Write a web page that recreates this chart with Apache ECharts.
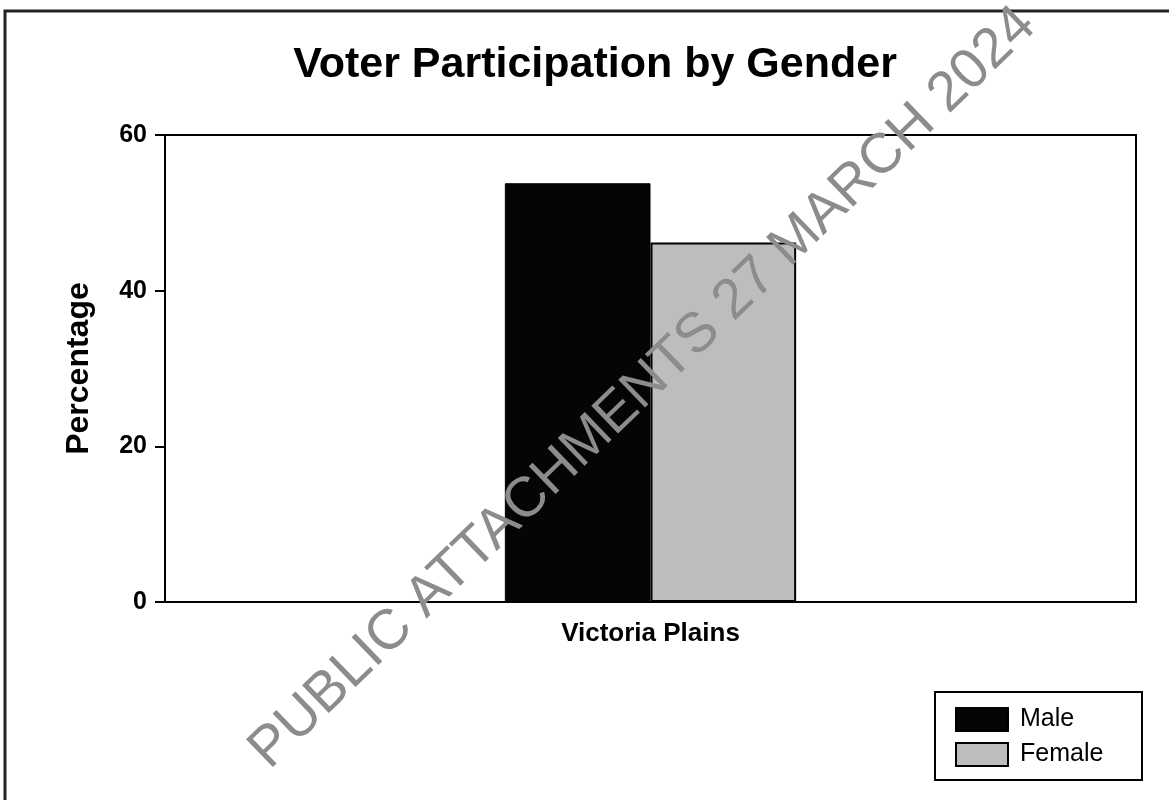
<!DOCTYPE html>
<html>
<head>
<meta charset="utf-8">
<title>Voter Participation by Gender</title>
<script src="https://cdn.jsdelivr.net/npm/echarts@6/dist/echarts.min.js"></script>
<style>
  html, body { margin: 0; padding: 0; background: #fff; }
  #chart { width: 1169px; height: 800px; }
</style>
</head>
<body>
<div id="chart"></div>
<script>
// data
const categories = ['Victoria Plains'];
const maleValues = [53.8];
const femaleValues = [46.2];
const seriesNames = ['Male', 'Female'];

const FONT = "'Liberation Sans', Arial, sans-serif";

var myChart = echarts.init(document.getElementById('chart'));

const option = {
  backgroundColor: '#fff',
  animation: false,
  title: {
    text: 'Voter Participation by Gender',
    left: 590,
    textAlign: 'center',
    top: 39,
    textStyle: { fontFamily: FONT, fontSize: 43, fontWeight: 'bold', color: '#000' }
  },
  grid: {
    left: 165, right: 33, top: 135, bottom: 198,
    show: true, borderColor: '#000', borderWidth: 2, backgroundColor: 'transparent'
  },
  legend: {
    orient: 'vertical',
    left: 955,
    top: 707,
    padding: 0,
    icon: 'rect',
    itemWidth: 52,
    itemHeight: 23,
    itemGap: 10,
    data: seriesNames,
    textStyle: { fontFamily: FONT, fontSize: 25, color: '#000', padding: [0, 0, 0, 7] }
  },
  xAxis: {
    type: 'category',
    data: categories,
    axisLine: { lineStyle: { color: '#000', width: 2 } },
    axisTick: { alignWithLabel: true, length: 8, lineStyle: { color: '#000', width: 2 } },
    axisLabel: { margin: 19, fontFamily: FONT, fontSize: 26, fontWeight: 'bold', color: '#000' }
  },
  yAxis: {
    type: 'value',
    min: 0, max: 60, interval: 20,
    name: 'Percentage',
    nameLocation: 'middle',
    nameGap: 70,
    nameTextStyle: { fontFamily: FONT, fontSize: 32, fontWeight: 'bold', color: '#000' },
    axisLine: { show: true, lineStyle: { color: '#000', width: 2 } },
    axisTick: { show: true, length: 10, lineStyle: { color: '#000', width: 2 } },
    axisLabel: { margin: 18, fontFamily: FONT, fontSize: 25, fontWeight: 'bold', color: '#000' },
    splitLine: { show: false }
  },
  series: [
    {
      name: seriesNames[0],
      type: 'bar',
      data: maleValues,
      barWidth: '15%',
      barGap: '0%',
      itemStyle: { color: '#050505', borderColor: '#000', borderWidth: 1 }
    },
    {
      name: seriesNames[1],
      type: 'bar',
      data: femaleValues,
      barWidth: '15%',
      itemStyle: { color: '#bdbdbd', borderColor: '#000', borderWidth: 2 }
    }
  ],
  graphic: [
    // outer frame
    {
      type: 'rect', z: -1,
      shape: { x: 5, y: 11, width: 1200, height: 820 },
      style: { fill: 'transparent', stroke: '#222', lineWidth: 3 }
    },
    // legend box
    {
      type: 'rect',
      shape: { x: 935, y: 692, width: 207, height: 88 },
      style: { fill: 'transparent', stroke: '#000', lineWidth: 2 }
    },
    // watermark
    {
      type: 'text', z: 100,
      x: 643, y: 388,
      rotation: 44 * Math.PI / 180,
      style: {
        text: 'PUBLIC ATTACHMENTS 27 MARCH 2024',
        fontFamily: FONT, fontSize: 56,
        fill: '#8c8c8c',
        align: 'center', verticalAlign: 'middle'
      }
    }
  ]
};

myChart.setOption(option);
</script>
</body>
</html>
